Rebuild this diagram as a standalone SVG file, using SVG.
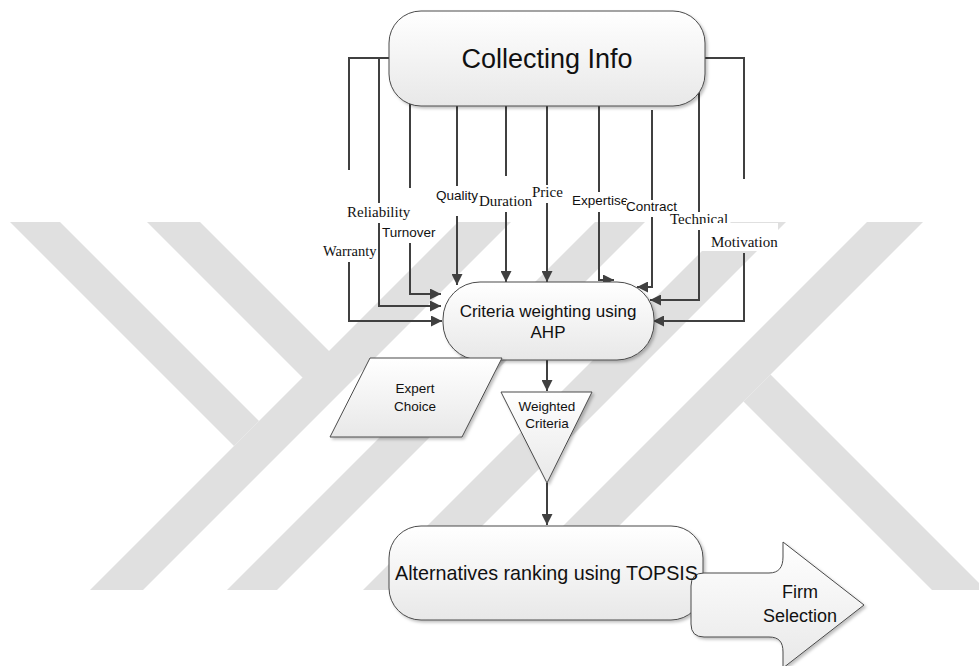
<svg xmlns="http://www.w3.org/2000/svg" width="979" height="666" viewBox="0 0 979 666">
<style>
.wm{fill:#e0e0e0}
.node{fill:url(#g);stroke:#4a4a4a;stroke-width:1;filter:url(#sh)}
.conn{fill:none;stroke:#404040;stroke-width:2}
.lbg{fill:#ffffff}
.sans{font-family:"Liberation Sans",Arial,sans-serif;fill:#111}
.serif{font-family:"Liberation Serif","Times New Roman",serif;fill:#111}
</style>
<defs>
<linearGradient id="g" x1="0" y1="0" x2="0" y2="1">
<stop offset="0" stop-color="#ffffff"/>
<stop offset="1" stop-color="#e8e8e8"/>
</linearGradient>
<filter id="sh" x="-10%" y="-10%" width="130%" height="130%">
<feDropShadow dx="2" dy="2" stdDeviation="1.5" flood-color="#000" flood-opacity="0.25"/>
</filter>
<marker id="ah" markerUnits="userSpaceOnUse" markerWidth="12" markerHeight="11" refX="11" refY="5.5" orient="auto">
<path d="M0,0 L11,5.5 L0,11 Z" fill="#404040"/>
</marker>
</defs>
<rect width="979" height="666" fill="#ffffff"/>
<g id="watermark">
<polygon class="wm" points="458,222 511,222 143,590 90,590"/>
<polygon class="wm" points="595,222 645,222 277,590 227,590"/>
<polygon class="wm" points="731,222 786,222 418,590 363,590"/>
<polygon class="wm" points="867,222 923,222 555,590 499,590"/>
<polygon class="wm" points="10,222 60,222 259,421 234,446"/>
<polygon class="wm" points="147,222 200,222 355.5,377.5 302.5,377.5"/>
<polygon class="wm" points="770.5,374.5 986,590 932,590 743.5,401.5"/>
</g>
<g id="connectors">
<path class="conn" d="M395,58 H349 V170 M349,262 V321 H442" marker-end="url(#ah)"/>
<path class="conn" d="M379,58 V203 M379,223 V306 H441" marker-end="url(#ah)"/>
<path class="conn" d="M410,95 V188 M410,243 V294 H441" marker-end="url(#ah)"/>
<path class="conn" d="M457,100 V186 M457,216 V285" marker-end="url(#ah)"/>
<path class="conn" d="M506,100 V176 M506,212 V282" marker-end="url(#ah)"/>
<path class="conn" d="M547,100 V185 M547,203 V282" marker-end="url(#ah)"/>
<path class="conn" d="M599,100 V192 M599,212 V280 H614" marker-end="url(#ah)"/>
<path class="conn" d="M652,110 V200 M652,217 V287 H637" marker-end="url(#ah)"/>
<path class="conn" d="M699,90 V212 M699,230 V300 H650" marker-end="url(#ah)"/>
<path class="conn" d="M700,58 H744 V179 M744,253 V321 H653" marker-end="url(#ah)"/>
<path class="conn" d="M547,360 V391" marker-end="url(#ah)"/>
<path class="conn" d="M547,483 V525" marker-end="url(#ah)"/>
</g>
<g id="label-warranty"><rect class="lbg" x="322" y="243" width="55" height="17"/><text class="serif" x="323" y="256" font-size="14.5">Warranty</text></g>
<g id="label-reliability"><rect class="lbg" x="346" y="205" width="64" height="16"/><text class="serif" x="347" y="217" font-size="15">Reliability</text></g>
<g id="label-turnover"><rect class="lbg" x="381" y="225" width="57" height="16"/><text class="sans" x="382" y="237" font-size="13.5">Turnover</text></g>
<g id="label-quality"><rect class="lbg" x="437" y="188" width="42" height="16"/><text class="sans" x="436" y="200" font-size="13.5">Quality</text></g>
<g id="label-duration"><rect class="lbg" x="478" y="194" width="55" height="16"/><text class="serif" x="479" y="206" font-size="15">Duration</text></g>
<g id="label-price"><rect class="lbg" x="531" y="185" width="32" height="16"/><text class="serif" x="532" y="197" font-size="15">Price</text></g>
<g id="label-expertise"><rect class="lbg" x="571" y="194" width="55" height="15"/><text class="sans" x="572" y="205" font-size="13.5">Expertise</text></g>
<g id="label-contract"><rect class="lbg" x="626" y="200" width="52" height="15"/><text class="sans" x="626" y="211" font-size="13.5">Contract</text></g>
<g id="label-technical"><rect class="lbg" x="669" y="212" width="59" height="17"/><text class="serif" x="670" y="224" font-size="15">Technical</text></g>
<g id="label-motivation"><rect class="lbg" x="702" y="223" width="76" height="28"/><text class="serif" x="711" y="247" font-size="15">Motivation</text></g>
<g id="collecting-info">
<rect class="node" x="389" y="11" width="316" height="95" rx="32"/>
<text class="sans" x="547" y="68" font-size="27" text-anchor="middle">Collecting Info</text>
</g>
<g id="criteria-weighting">
<rect class="node" x="443" y="282" width="211" height="78" rx="37"/>
<text class="sans" x="548" y="317" font-size="17" text-anchor="middle">Criteria weighting using</text>
<text class="sans" x="548" y="338" font-size="17" text-anchor="middle">AHP</text>
</g>
<g id="expert-choice">
<polygon class="node" points="370,358 502,358 462,437 330,437"/>
<text class="sans" x="415" y="393" font-size="13.5" text-anchor="middle">Expert</text>
<text class="sans" x="415" y="411" font-size="13.5" text-anchor="middle">Choice</text>
</g>
<g id="weighted-criteria">
<polygon class="node" points="501,392 592,392 547,483"/>
<text class="sans" x="547" y="411" font-size="13.5" text-anchor="middle">Weighted</text>
<text class="sans" x="547" y="428" font-size="13.5" text-anchor="middle">Criteria</text>
</g>
<g id="alternatives-ranking">
<rect class="node" x="389" y="526" width="314" height="94" rx="32"/>
</g>
<g id="firm-selection">
<path class="node" d="M783,542 L864,605 L783,668 L783,652 C783,642 779,637 769,637 L704,637 Q691,637 691,624 L691,586 Q691,573 704,573 L769,573 C779,573 783,567 783,557 Z"/>
<text class="sans" x="800" y="598" font-size="18" text-anchor="middle">Firm</text>
<text class="sans" x="800" y="622" font-size="18" text-anchor="middle">Selection</text>
</g>
<g id="alternatives-ranking-label">
<text class="sans" x="395" y="580" font-size="21" textLength="303" lengthAdjust="spacingAndGlyphs">Alternatives ranking using TOPSIS</text>
</g>
</svg>
